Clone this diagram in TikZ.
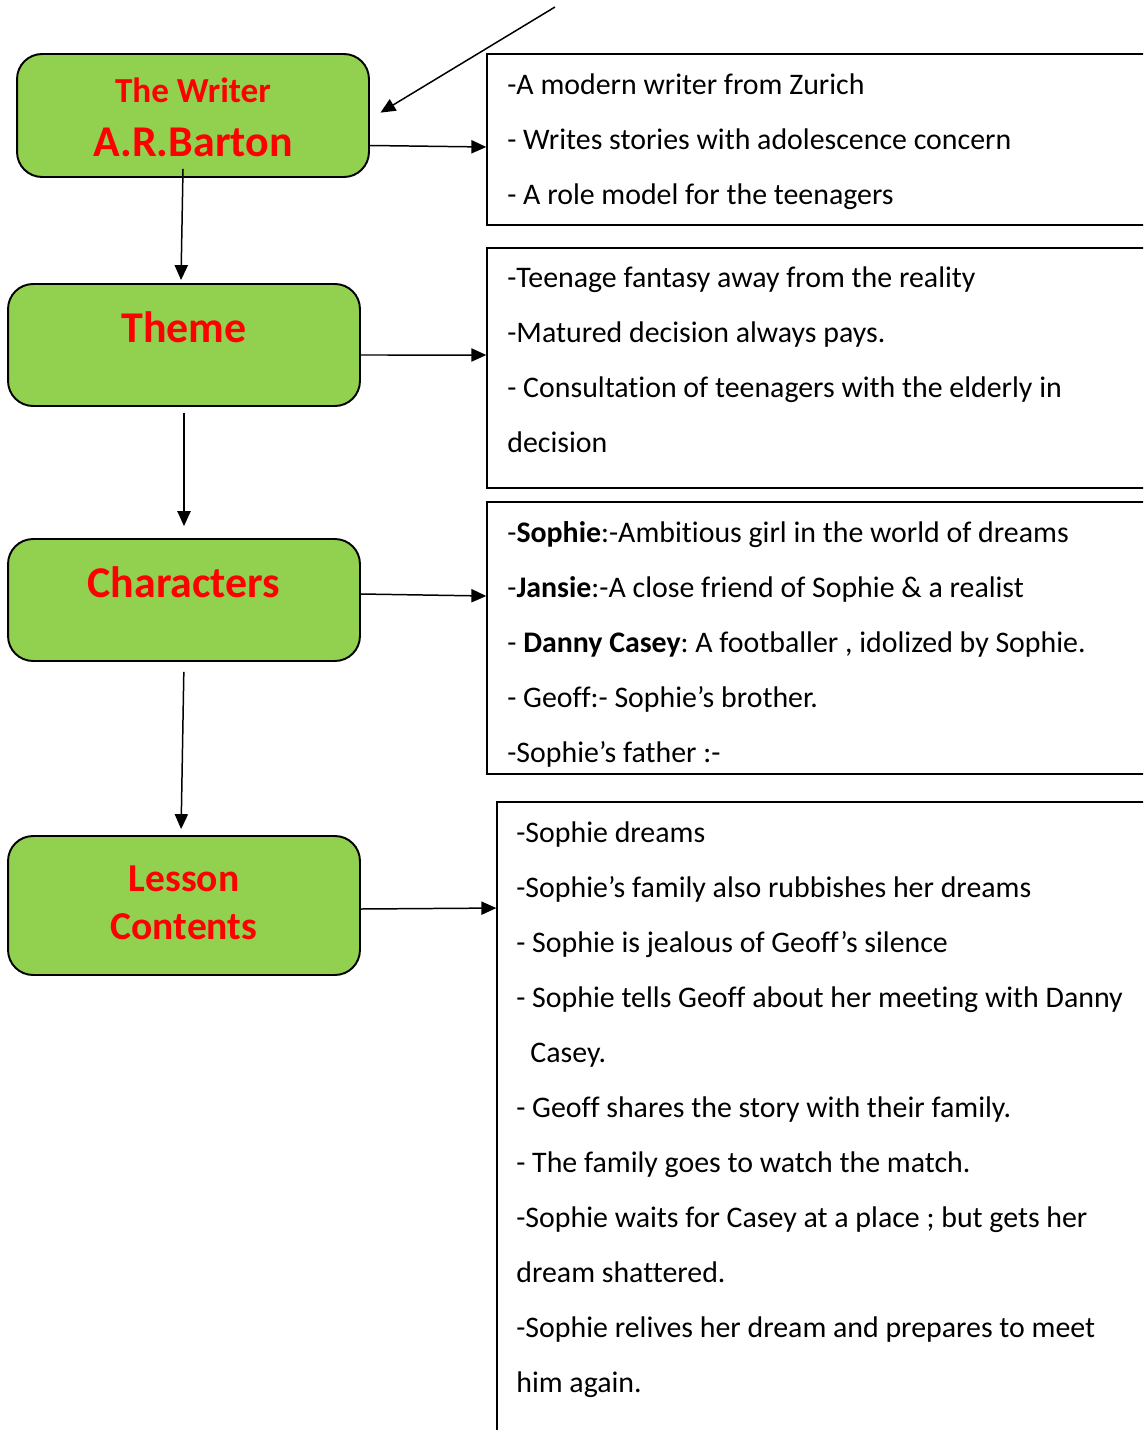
\documentclass[tikz,border=0pt]{standalone}
\usepackage{fontspec}
\setmainfont{Carlito}[Ligatures=NoCommon]
\usetikzlibrary{arrows.meta}
\definecolor{boxgreen}{HTML}{92D050}
\frenchspacing
\tikzset{
	headbox/.style={draw, line width=1.1pt, fill=boxgreen, rounded corners=0.5cm, minimum width=7.04cm},
	headtext/.style={text=red, anchor=base, inner sep=0pt},
	infobox/.style={draw, line width=0.85pt},
	infotext/.style={font=\fontsize{17}{31.3}\selectfont, align=left, anchor=north west, inner sep=0pt},
	link/.style={-{Triangle[length=8.5pt,width=7.5pt]}, line width=0.85pt}
}
\begin{document}
\begin{tikzpicture}[x=0.02cm, y=-0.02cm]
		\useasboundingbox (0,0) rectangle (1143,1430);
		\clip (0,0) rectangle (1143,1430);
		%green boxes
			\node[headbox, minimum height=2.46cm] (writer) at (193,115.5) {};
			\node[headbox, minimum height=2.44cm] (theme) at (184,345) {};
			\node[headbox, minimum height=2.44cm] (characters) at (184,600) {};
			\node[headbox, minimum height=2.78cm] (lesson) at (184,905.5) {};
		%box titles
			\node[headtext, font=\bfseries\fontsize{20}{24}\selectfont] (writertitle) at (193,102) {The Writer};
			\node[headtext, font=\bfseries\fontsize{25}{30}\selectfont] (writername) at (193,156) {A.R.Barton};
			\node[headtext, font=\bfseries\fontsize{25}{30}\selectfont] (themetitle) at (184,342) {Theme};
			\node[headtext, font=\bfseries\fontsize{25}{30}\selectfont] (charactertitle) at (184,597) {Characters};
			\node[headtext, anchor=center, align=center, font=\bfseries\fontsize{22.5}{27.2}\selectfont] (lessontitle) at (184,903) {Lesson\\Contents};
		%text boxes
			\node[infobox, minimum width=13.46cm, minimum height=3.42cm] (info1) at (823.5,139.5) {};
			\node[infobox, minimum width=13.46cm, minimum height=4.8cm] (info2) at (823.5,368) {};
			\node[infobox, minimum width=13.46cm, minimum height=5.44cm] (info3) at (823.5,638) {};
			\node[infobox, minimum width=13.26cm, minimum height=12.86cm] (info4) at (828.5,1123.5) {};
		%texts
			\node[infotext] (writerlines) at (507,55.5) {\strut-A modern writer from Zurich\\
				- Writes stories with adolescence concern\\
				- A role model for the teenagers};
			\node[infotext] (themelines) at (507,248.5) {\strut-Teenage fantasy away from the reality\\
				-Matured decision always pays.\\
				- Consultation of teenagers with the elderly in\\
				decision};
			\node[infotext] (characterlines) at (507,503.5) {\strut-\textbf{Sophie}:-Ambitious girl in the world of dreams\\
				-\textbf{Jansie}:-A close friend of Sophie \& a realist\\
				- \textbf{Danny Casey}: A footballer , idolized by Sophie.\\
				- Geoff:- Sophie’s brother.\\
				-Sophie’s father :-};
			\node[infotext] (lessonlines) at (516,803.5) {\strut-Sophie dreams\\
				-Sophie’s family also rubbishes her dreams\\
				- Sophie is jealous of Geoff’s silence\\
				- Sophie tells Geoff about her meeting with Danny\\
				\hspace*{8pt}Casey.\\
				- Geoff shares the story with their family.\\
				- The family goes to watch the match.\\
				-Sophie waits for Casey at a place ; but gets her\\
				dream shattered.\\
				-Sophie relives her dream and prepares to meet\\
				him again.};
		%arrows
			\coordinate (topend) at (555,7);
			\draw[link, shorten >=7pt] (topend) -- ([yshift=-0.07cm]writer.east);
			\draw[link] ([yshift=-0.6cm]writer.east) -- ([yshift=-0.15cm]info1.west);
			\draw[link] ([xshift=-0.2cm,yshift=0.18cm]writer.south) -- ([xshift=-0.06cm,yshift=0.06cm]theme.north);
			\draw[link] ([yshift=-0.2cm]theme.east) -- ([yshift=0.26cm]info2.west);
			\draw[link, shorten <=3.4pt, shorten >=6.8pt] (theme.south) -- (characters.north);
			\draw[link] ([yshift=0.12cm]characters.east) -- ([yshift=0.84cm]info3.west);
			\draw[link, shorten <=5.7pt, shorten >=3.4pt] (characters.south) -- ([xshift=-0.06cm]lesson.north);
			\draw[link] ([yshift=-0.07cm]lesson.east) -- ([yshift=4.31cm]info4.west);
	\end{tikzpicture}
\end{document}
